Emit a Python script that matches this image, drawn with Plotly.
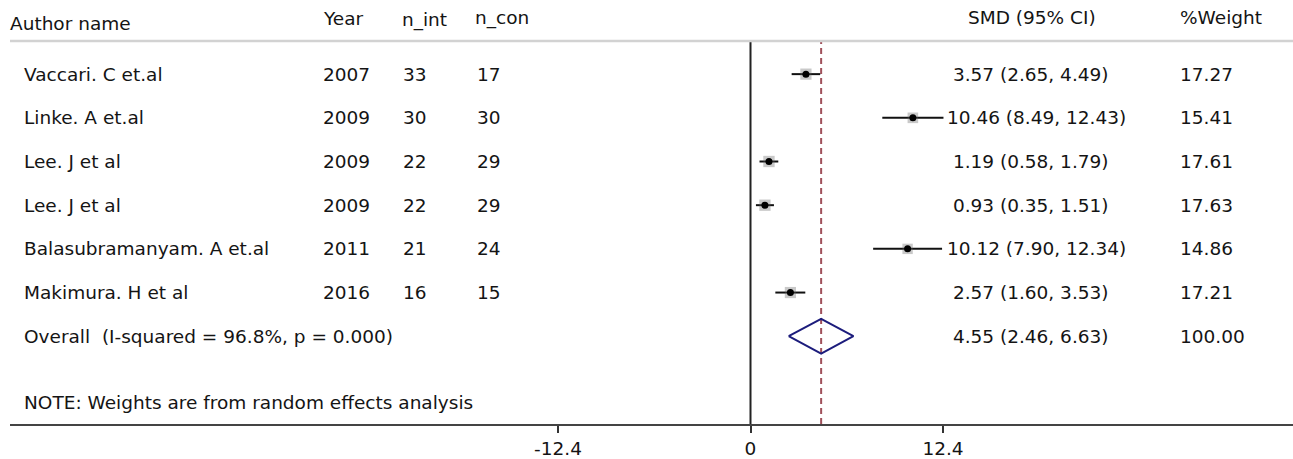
import plotly.graph_objects as go

# ---------------- data ----------------
authors = ["Vaccari. C et.al", "Linke. A et.al", "Lee. J et al", "Lee. J et al",
           "Balasubramanyam. A et.al", "Makimura. H et al"]
years = [2007, 2009, 2009, 2009, 2011, 2016]
n_int = [33, 30, 22, 22, 21, 16]
n_con = [17, 30, 29, 29, 24, 15]
smd = [3.57, 10.46, 1.19, 0.93, 10.12, 2.57]
ci_lo = [2.65, 8.49, 0.58, 0.35, 7.90, 1.60]
ci_hi = [4.49, 12.43, 1.79, 1.51, 12.34, 3.53]
weights = [17.27, 15.41, 17.61, 17.63, 14.86, 17.21]

overall_label = "Overall  (I-squared = 96.8%, p = 0.000)"
overall_smd = 4.55
overall_lo = 2.46
overall_hi = 6.63
overall_weight = 100.00

note_text = "NOTE: Weights are from random effects analysis"
header_labels = ["Author name", "Year", "n_int", "n_con", "SMD (95% CI)", "%Weight"]
tick_vals = [-12.4, 0, 12.4]
tick_text = ["-12.4", "0", "12.4"]

# ---------------- styling / geometry ----------------
W, H = 1293, 459
ML, MR, MT, MB = 10, 0, 0, 30
PLOT_W = W - ML - MR
PLOT_H = H - MT - MB
FONT = "DejaVu Sans"
FS = 18.5
TXT = "#141414"


def px_x(px):
    return (px - ML) / PLOT_W


def px_y(py):
    return 1 - (py - MT) / PLOT_H


def nb(s):
    return s.replace(" ", "\u00a0")


n = len(authors)
rows = list(range(n))
overall_row = n

fig = go.Figure()

# CI lines
cx, cy = [], []
for i in rows:
    cx += [ci_lo[i], ci_hi[i], None]
    cy += [i, i, None]
fig.add_trace(go.Scatter(x=cx, y=cy, mode="lines",
                         line=dict(color="#111111", width=2),
                         hoverinfo="skip", showlegend=False))

# weight boxes
fig.add_trace(go.Scatter(x=smd, y=rows, mode="markers",
                         marker=dict(symbol="square", color="rgba(100,100,100,0.5)",
                                     size=[2.7 * (w ** 0.5) for w in weights],
                                     line=dict(width=0)),
                         hoverinfo="skip", showlegend=False))
# point estimates
fig.add_trace(go.Scatter(x=smd, y=rows, mode="markers",
                         marker=dict(symbol="circle", color="#000000", size=7,
                                     line=dict(width=0)),
                         hoverinfo="skip", showlegend=False))

# overall diamond
hh = 0.396
fig.add_trace(go.Scatter(
    x=[overall_lo, overall_smd, overall_hi, overall_smd, overall_lo],
    y=[overall_row, overall_row - hh, overall_row, overall_row + hh, overall_row],
    mode="lines", line=dict(color="#1c1c7c", width=2),
    hoverinfo="skip", showlegend=False))

# vertical lines
top_y = px_y(42)
fig.add_shape(type="line", xref="x", yref="paper", x0=0, x1=0, y0=0, y1=top_y,
              line=dict(color="#222222", width=2), layer="below")
fig.add_shape(type="line", xref="x", yref="paper", x0=overall_smd, x1=overall_smd,
              y0=0, y1=top_y, line=dict(color="#a0505a", width=2, dash="6px,4px"),
              layer="below")
# header rule
fig.add_shape(type="line", xref="paper", yref="paper", x0=0, x1=1,
              y0=px_y(41.5), y1=px_y(41.5), line=dict(color="#d2d2d2", width=2.5))

annotations = []


def add_text(text, xpx, y, yref="y", anchor="left"):
    annotations.append(dict(text=nb(text), x=px_x(xpx), xref="paper", y=y, yref=yref,
                            xanchor=anchor, yanchor="middle", showarrow=False,
                            font=dict(family=FONT, size=FS, color=TXT)))


# headers
header_pos = [(8, 24), (321, 19), (400, 20), (473, 18), (966, 18), (1178, 18)]
for lab, (hx, hy) in zip(header_labels, header_pos):
    add_text(lab, hx, px_y(hy), yref="paper")

# rows
for i in rows:
    add_text(authors[i], 22, i)
    add_text(str(years[i]), 321, i)
    add_text(str(n_int[i]), 401, i)
    add_text(str(n_con[i]), 475, i)
    add_text(f"{smd[i]:5.2f} ({ci_lo[i]:.2f}, {ci_hi[i]:.2f})", 945, i)
    add_text(f"{weights[i]:.2f}", 1178, i)

add_text(overall_label, 22, overall_row)
add_text(f"{overall_smd:5.2f} ({overall_lo:.2f}, {overall_hi:.2f})", 945, overall_row)
add_text(f"{overall_weight:.2f}", 1178, overall_row)
add_text(note_text, 22, px_y(407), yref="paper")

ppu = (943 - 558) / 24.8
zero_px = 750.5
x_range = [(ML - zero_px) / ppu, (W - MR - zero_px) / ppu]
y_range = [(MT + PLOT_H - 75) / 44.2, (MT - 75) / 44.2]

fig.update_layout(
    width=W, height=H,
    margin=dict(l=ML, r=MR, t=MT, b=MB),
    paper_bgcolor="white", plot_bgcolor="white",
    annotations=annotations,
    xaxis=dict(range=x_range, showgrid=False, zeroline=False,
               showline=True, linecolor="#444444", linewidth=2,
               ticks="outside", ticklen=7, tickwidth=2, tickcolor="#333333",
               tickvals=tick_vals, ticktext=tick_text,
               tickfont=dict(family=FONT, size=FS, color=TXT), fixedrange=True),
    yaxis=dict(range=y_range, visible=False, fixedrange=True),
    showlegend=False,
)

fig.write_html("out.html", config={"displayModeBar": False},
               post_script="document.body.style.margin='0';document.body.style.padding='0';")
